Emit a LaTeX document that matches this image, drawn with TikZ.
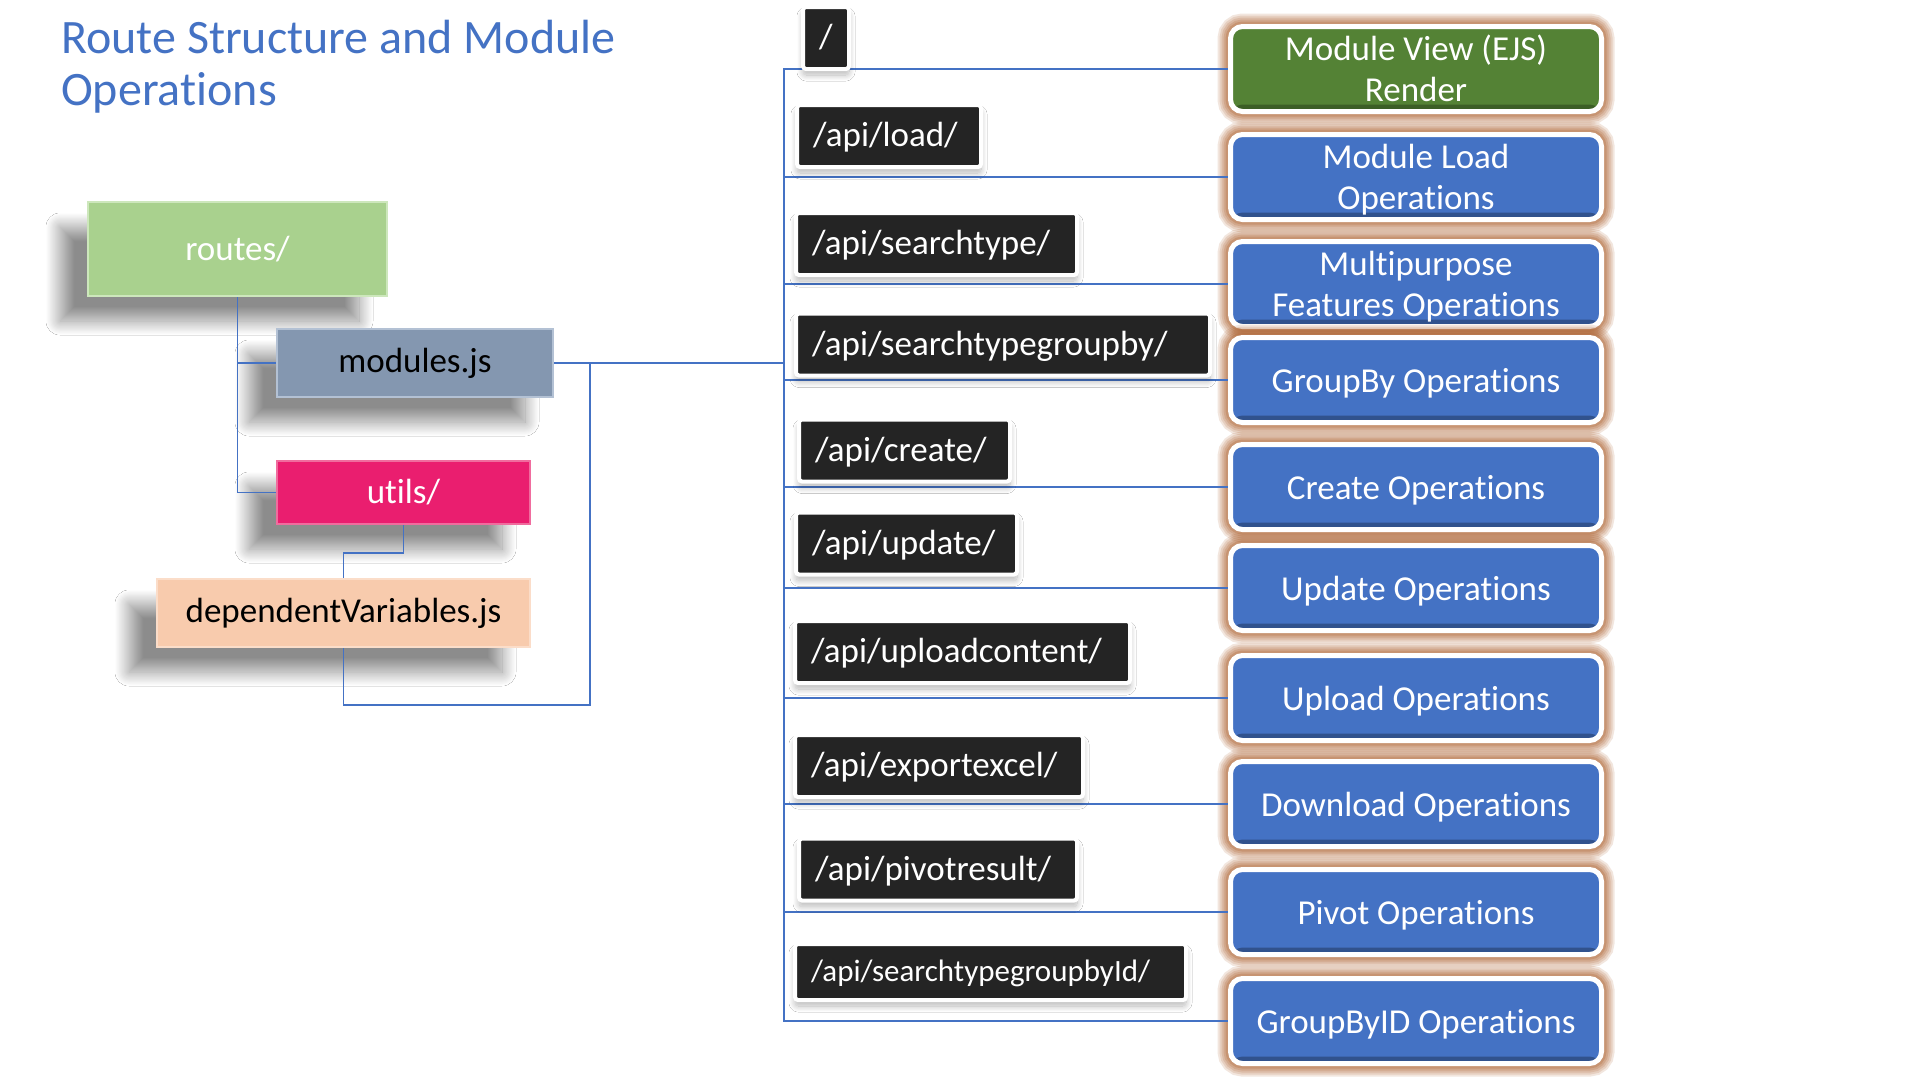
\documentclass[tikz,border=0pt]{standalone}
\usepackage{fontspec}
\setmainfont{Carlito}[Ligatures={NoCommon}]
\usepackage{xcolor}
\usetikzlibrary{shadows.blur}
\definecolor{titleblue}{HTML}{4472C4}
\definecolor{linkblue}{HTML}{4472C4}
\definecolor{opblue}{HTML}{4472C4}
\definecolor{viewgreen}{HTML}{548235}
\definecolor{glowbrown}{HTML}{A4511A}
\definecolor{routeblack}{HTML}{242424}
\definecolor{routesgreen}{HTML}{A9D18E}
\definecolor{routesedge}{HTML}{CDE7BC}
\definecolor{modulesgray}{HTML}{8497B0}
\definecolor{modulesedge}{HTML}{B3C1D4}
\definecolor{utilspink}{HTML}{EA1E6F}
\definecolor{utilsedge}{HTML}{F06C9E}
\definecolor{deppeach}{HTML}{F8CBAD}
\definecolor{depedge}{HTML}{FBDDC9}
\tikzset{
    link-line/.style = {draw=linkblue, line width=1.4pt},
    tree-box/.style = {rectangle, line width=2pt, font=\fontsize{35}{42}\selectfont,
        blur shadow={shadow xshift=-28pt, shadow yshift=-25pt, shadow blur radius=14pt, shadow blur steps=30, shadow opacity=45}},
    op-box/.style = {rectangle, rounded corners=12pt, draw=white, line width=5pt, fill=#1, text=white,
        align=center, font=\fontsize{35}{41}\selectfont, minimum width=371pt, minimum height=85pt, inner sep=2pt,
        preaction={draw=glowbrown, line width=26pt, draw opacity=0.14},
        preaction={draw=glowbrown, line width=22pt, draw opacity=0.15},
        preaction={draw=glowbrown, line width=18pt, draw opacity=0.16},
        preaction={draw=glowbrown, line width=14pt, draw opacity=0.18},
        preaction={draw=glowbrown, line width=10pt, draw opacity=0.22},
        path picture={\fill[#1!72!black] ([yshift=7pt]path picture bounding box.south west) rectangle (path picture bounding box.south east);}},
    op-box/.default = opblue,
    one-line/.style = {text height=30pt, text depth=5.4pt},
    two-line/.style = {text height=66pt, text depth=2pt},
    route-label/.style = {rectangle, rounded corners=3pt, draw=white, line width=4pt, fill=routeblack, text=white,
        anchor=west, align=left, font=\fontsize{35}{42}\selectfont, minimum height=62pt, inner xsep=16pt,
        text height=27pt, text depth=6pt,
        blur shadow={shadow xshift=0pt, shadow yshift=-6pt, shadow blur radius=6pt, shadow blur steps=20, shadow opacity=28}},
}

\begin{document}
\begin{tikzpicture}[x=1pt, y=-1pt]
\fill[white] (0,0) rectangle (1920,1080);
\useasboundingbox (0,0) rectangle (1920,1080);

% title
\node[anchor=north west, inner sep=0pt, align=left, text=titleblue, font=\fontsize{48}{52}\selectfont] (title) at (61,20) {Route Structure and Module\\Operations};

% folder tree
\node[tree-box, fill=routesgreen, draw=routesedge, text=white, minimum width=299pt, minimum height=94pt] (routes) at (237.5,249) {routes/};
\node[tree-box, fill=modulesgray, draw=modulesedge, text=black, minimum width=276pt, minimum height=68pt] (modules) at (415,363) {modules.js};
\node[tree-box, fill=utilspink, draw=utilsedge, text=white, minimum width=253pt, minimum height=63pt] (utils) at (403.5,492.5) {utils/};
\node[tree-box, fill=deppeach, draw=depedge, text=black, minimum width=373pt, minimum height=68pt] (dep) at (343.5,613) {dependentVariables.js};

\coordinate (bus) at (590,363);
\coordinate (trunk) at (784,363);
\draw[link-line] (routes.south) |- (modules.west);
\draw[link-line] (routes.south) |- (utils.west);
\draw[link-line] (utils.south) -- ++(0,28) -| (dep.north);
\draw[link-line] (dep.south) -- ++(0,57) -| (bus);
\draw[link-line] (modules.east) -- (trunk);

% operations
\node[op-box=viewgreen, two-line] (view) at (1416,69) {Module View (EJS)\\Render};
\node[op-box, two-line] (load) at (1416,177) {Module Load\\Operations};
\node[op-box, two-line] (multi) at (1416,284) {Multipurpose\\Features Operations};
\node[op-box, one-line] (groupby) at (1416,380) {GroupBy Operations};
\node[op-box, one-line] (create) at (1416,487) {Create Operations};
\node[op-box, one-line] (update) at (1416,588) {Update Operations};
\node[op-box, one-line] (upload) at (1416,698) {Upload Operations};
\node[op-box, one-line] (download) at (1416,804) {Download Operations};
\node[op-box, one-line] (pivot) at (1416,912) {Pivot Operations};
\node[op-box, one-line] (groupbyid) at (1416,1021) {GroupByID Operations};

\foreach \op in {view, load, multi, groupby, create, update, upload, download, pivot, groupbyid}
    \draw[link-line] (trunk) |- (\op.west);

% api routes
\node[route-label, text width=14pt] (r-root) at (801,38) {/};
\node[route-label, text width=152pt] (r-load) at (795,136) {/api/load/};
\node[route-label, text width=249pt] (r-searchtype) at (794,244) {/api/searchtype/};
\node[route-label, text width=382pt] (r-groupby) at (794,344.5) {/api/searchtypegroupby/};
\node[route-label, text width=179pt] (r-create) at (797,450.5) {/api/create/};
\node[route-label, text width=189pt] (r-update) at (794,543.5) {/api/update/};
\node[route-label, text width=303pt] (r-upload) at (793,652) {/api/uploadcontent/};
\node[route-label, text width=256pt] (r-export) at (793,766) {/api/exportexcel/};
\node[route-label, text width=246pt] (r-pivot) at (797,869.5) {/api/pivotresult/};
\node[route-label, text width=359pt, font=\fontsize{31}{38}\selectfont, minimum height=56pt, text height=24pt, text depth=5pt] (r-groupbyid) at (793,972) {/api/searchtypegroupbyId/};
\end{tikzpicture}
\end{document}
